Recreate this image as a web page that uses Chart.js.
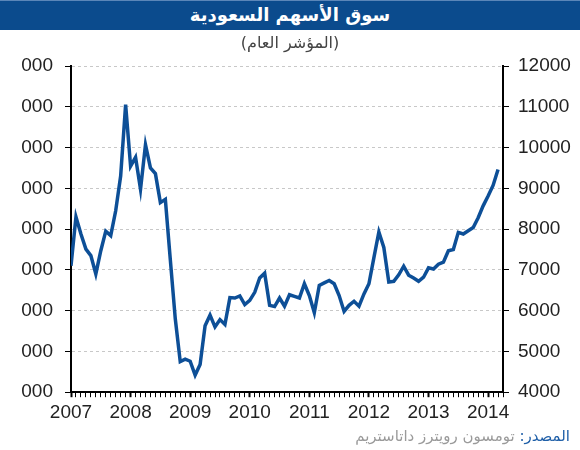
<!DOCTYPE html>
<html>
<head>
<meta charset="utf-8">
<script src="https://cdn.jsdelivr.net/npm/chart.js@4/dist/chart.umd.min.js"></script>
<style>
  body { margin: 0; background: #fff; font-family: Arial, "Liberation Sans", "DejaVu Sans", sans-serif; }
  #wrap { position: relative; width: 580px; height: 450px; overflow: hidden; }
  #chart { position: absolute; left: 0; top: 0; }
  #titlebar { position: absolute; left: 0; top: 0; width: 580px; height: 30px; background: #0b4b8d;
    border-top: 1px solid #5b86b8; box-sizing: border-box; color: #fff; text-align: center;
    font: bold 18px "DejaVu Sans", sans-serif; line-height: 28px; }
  #subtitle { position: absolute; left: 0; top: 33px; width: 580px; text-align: center; color: #444;
    font: 16px "DejaVu Sans", sans-serif; }
  #clip { position: absolute; left: 0; top: 56px; width: 21px; height: 350px; background: #fff; }
  #source { position: absolute; right: 10px; top: 427px; direction: rtl; color: #9a9a9a;
    font: 15px "DejaVu Sans", sans-serif; }
  #source span { color: #1f5fa8; }
</style>
</head>
<body>
<div id="wrap">
  <canvas id="chart" width="580" height="450"></canvas>
  <div id="titlebar">سوق الأسهم السعودية</div>
  <div id="subtitle">(المؤشر العام)</div>
  <div id="clip"></div>
  <div id="source"><span>المصدر:</span> تومسون رويترز داتاستريم</div>
</div>
<script>
// monthly index values, Jan 2007 .. Mar 2014
var values = [
  7100, 8300, 7880, 7510, 7350, 6900, 7470, 7950, 7840, 8450, 9300, 11050,
  9545, 9760, 8975, 10070, 9500, 9360, 8650, 8730, 7250, 5800, 4750, 4810,
  4760, 4420, 4680, 5630, 5890, 5600, 5780, 5660, 6320, 6310, 6360, 6150,
  6250, 6450, 6800, 6920, 6130, 6100, 6310, 6110, 6390, 6350, 6310, 6660,
  6370, 5950, 6620, 6680, 6740, 6660, 6370, 5980, 6130, 6230, 6110, 6410,
  6660, 7300, 7930, 7550, 6700, 6720, 6880, 7090, 6870, 6800, 6720, 6820,
  7050, 7020, 7140, 7190, 7470, 7500, 7920, 7880, 7960, 8040, 8280, 8570,
  8810, 9070, 9460
];
var yearLabels = ['2007', '2008', '2009', '2010', '2011', '2012', '2013', '2014'];
var monthsShown = 87;
var yMin = 4000, yMax = 12000, yStep = 1000;

var points = values.map(function (v, i) { return { x: i, y: v }; });

var tickFont = { family: 'Arial, "Liberation Sans", sans-serif', size: 19 };
function plain(v) { return String(v); }

var chart = new Chart(document.getElementById('chart').getContext('2d'), {
  type: 'line',
  data: {
    datasets: [{
      label: 'TASI',
      data: points,
      borderColor: '#0d4f97',
      borderWidth: 3.5,
      pointRadius: 0,
      tension: 0,
      fill: false,
      yAxisID: 'y'
    }]
  },
  options: {
    responsive: false,
    animation: false,
    layout: { padding: { top: 66, bottom: 22, left: 0, right: 0 } },
    plugins: {
      legend: { display: false },
      tooltip: { enabled: false }
    },
    scales: {
      x: {
        type: 'linear',
        min: 0,
        max: monthsShown,
        border: { color: '#000', width: 2 },
        grid: {
          drawOnChartArea: false,
          tickLength: 5,
          tickColor: '#000',
          tickWidth: function (ctx) { return ctx.tick && ctx.tick.value % 12 === 0 ? 2 : 1; }
        },
        ticks: {
          stepSize: 1,
          autoSkip: false,
          maxRotation: 0,
          includeBounds: false,
          padding: 4,
          color: '#222',
          font: tickFont,
          callback: function (v) {
            return v % 12 === 0 ? (yearLabels[v / 12] || '') : '';
          }
        }
      },
      y: {
        position: 'left',
        min: yMin,
        max: yMax,
        afterFit: function (s) { s.width = 71; },
        border: { color: '#000', width: 2, dash: [3, 3] },
        grid: {
          color: '#c8c8c8',
          lineWidth: 1,
          tickLength: 6,
          tickColor: '#000'
        },
        ticks: { stepSize: yStep, padding: 12, color: '#222', font: tickFont, callback: plain }
      },
      y2: {
        position: 'right',
        min: yMin,
        max: yMax,
        afterFit: function (s) { s.width = 77; },
        border: { color: '#000', width: 2 },
        grid: { drawOnChartArea: false, tickLength: 6, tickColor: '#000' },
        ticks: { stepSize: yStep, padding: 9, color: '#222', font: tickFont, callback: plain }
      }
    }
  }
});
</script>
</body>
</html>
